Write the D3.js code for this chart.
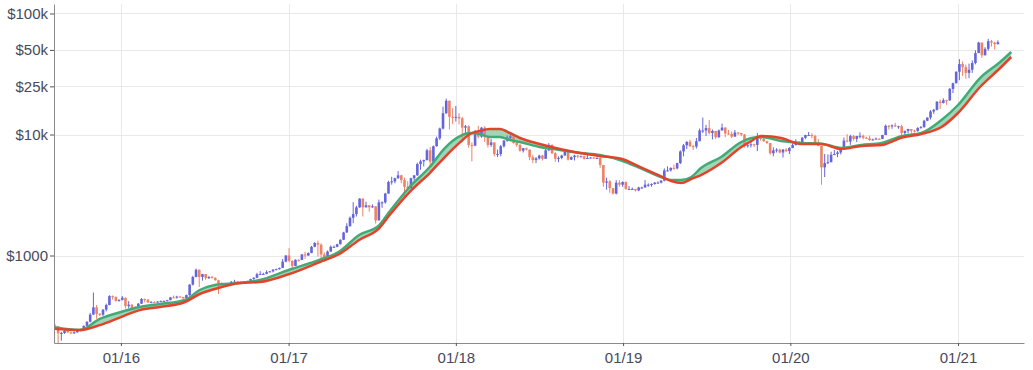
<!DOCTYPE html>
<html><head><meta charset="utf-8">
<script src="https://cdn.jsdelivr.net/npm/d3@7"></script>
<style>
body{margin:0;background:#fff;}
svg{display:block;font-family:"Liberation Sans",Arial,Helvetica,sans-serif;}
</style>
</head><body>
<svg id="chart" width="1033" height="370"></svg>
<script>
// ---------- DATA (weekly BTC candles, week start Monday 2015-08-10) ----------
const firstWeek = "2015-08-10";
const firstOpen = 265;

const close2015 = [260,228,229,240,232,231,232,240,246,262,284,325,373,330,324,357,390,462,455,422,430];
const high2015  = [272,262,234,242,245,235,236,242,248,265,285,336,495,390,335,360,400,470,468,458,435];
const low2015   = [255,185,198,225,228,224,225,230,236,245,262,280,323,300,315,317,345,388,432,415,415];

const close2016 = [448,382,392,368,373,400,437,431,410,412,410,416,420,420,428,451,450,458,455,443,471,575,665,762,665,703,650,666,655,625,588,570,581,571,608,608,609,603,610,617,639,655,700,703,705,730,740,765,772,790,890,1000];
const high2016  = [462,450,420,398,380,405,445,440,438,420,418,420,425,425,430,455,467,465,462,455,475,580,680,780,770,705,705,675,680,660,630,600,585,585,615,630,612,612,612,618,642,660,720,742,720,755,745,770,780,795,935,1010];
const low2016   = [425,365,365,365,365,370,398,410,405,405,405,408,413,416,418,426,445,440,450,438,438,465,565,660,550,620,630,640,645,620,480,565,565,565,570,600,600,592,600,605,615,630,650,690,690,700,725,725,755,765,788,880];

const close2017 = [905,820,922,920,1020,1000,1050,1180,1270,1230,1020,970,1080,1180,1180,1240,1350,1550,1750,2050,2200,2500,2950,2500,2600,2500,2550,1950,2750,2750,3250,4050,4100,4350,4600,4200,3700,3600,4350,4600,5700,6000,6150,7400,5950,8000,9300,11200,15000,19000,14000,13800];
const high2017  = [1150,910,930,930,1030,1070,1060,1200,1290,1330,1260,1060,1100,1210,1210,1250,1360,1570,1850,2100,2760,2580,2980,2980,2780,2600,2650,2550,2900,2800,3300,4150,4480,4400,4980,4650,4400,4100,4400,4620,5850,6200,6200,7600,7900,8100,9600,11400,17000,19800,19100,16500];
const low2017   = [880,750,820,890,915,940,990,1045,1170,980,940,890,930,1070,1160,1170,1235,1340,1540,1730,1850,2100,2480,2100,2500,2300,2480,1840,1950,2480,2680,3250,3850,3950,4300,3960,2970,3500,3600,4160,4550,5100,5450,6100,5500,5900,7950,9000,11000,14800,11000,12200];

const close2018 = [14000,13600,11400,11700,8200,8100,10400,9600,11400,9500,8200,8600,6900,6900,8000,8900,9400,9650,8500,8200,7350,7700,7500,6500,6150,6350,6700,6300,7400,8200,7000,6300,6400,6700,7200,6200,6500,6700,6600,6600,6300,6400,6450,6400,6400,5600,4000,4100,3600,3250,4000,3850];
const high2018  = [17200,15000,14000,12000,11900,8600,10900,11800,11500,11700,9900,9200,8600,7500,8200,9000,9800,9900,9700,8900,8400,7750,7800,7500,6800,6500,6800,6800,7600,8500,8300,7150,6600,6800,7300,7400,6600,6800,6800,6700,6700,6800,6500,6500,6500,6500,5600,4400,4200,3600,4200,4200];
const low2018   = [12800,12100,9100,10000,7800,6000,8000,9300,9400,8700,7800,7900,6600,6500,6600,7800,8700,9100,8400,7900,7200,7100,7400,6150,5800,5800,6200,6100,6300,7300,6900,5950,5900,6250,6700,6100,6150,6100,6400,6500,6200,6350,6350,6300,6300,5300,3700,3500,3300,3200,3200,3700];

const close2019 = [4050,3550,3550,3550,3450,3650,3650,3850,3850,3900,4000,4000,4150,5050,5050,5300,5250,5800,7250,8150,8700,8000,7950,8800,10800,10800,11300,10300,10700,9500,10800,11400,10200,10100,9600,10400,10300,10000,8050,8150,8300,8200,9550,9200,8800,8500,7000,7400,7500,7100,7500,7300];
const high2019  = [4100,4100,3750,3650,3550,3700,3700,4200,3950,3950,4050,4100,4200,5250,5450,5350,5650,5850,7400,8350,8800,9050,8200,9350,11200,13800,12000,13200,11000,10700,11000,12300,11500,10900,10600,10900,10400,10300,10100,8500,8800,8400,10300,9900,9500,8900,8500,7850,7700,7600,7600,7700];
const low2019   = [3700,3500,3500,3500,3380,3400,3550,3650,3700,3700,3850,3950,3950,4100,4950,4950,5100,5150,5700,6600,7600,7900,7450,7650,8950,10300,9700,10000,9100,9200,9400,10900,9500,9900,9350,9600,9900,9700,7800,7800,7800,7900,7300,8900,8700,8350,6800,6600,7100,7000,6450,7150];

const close2020 = [7750,8200,8700,8600,9400,9900,9900,9700,8550,8050,5350,5800,5900,6800,6900,7100,7550,8900,8750,9700,9200,9700,9750,9400,9300,9000,9100,9250,9200,9900,11800,11700,11900,11700,11700,10300,10700,11100,10750,10700,11300,11500,13000,13800,15500,16000,18700,18200,19200,19150,23800,26500,33000];
const high2020  = [7850,8450,9150,8800,9550,9950,10500,10250,9950,9150,8100,6900,6850,7200,7450,7300,7750,9450,10050,9950,9900,9750,10400,10000,9600,9800,9250,9450,9300,9950,12100,12000,12100,12500,11800,12050,10800,11150,10950,10950,11500,11750,13250,13850,15900,16300,18800,19450,19900,19400,24250,26850,33300];
const low2020   = [6900,7700,8100,8250,8550,9150,9800,9300,8500,8000,3850,4450,5700,5900,6750,6500,6850,7550,8600,8200,8900,8650,9300,9100,9200,8850,8950,9150,9050,9150,9950,11000,11150,11500,11150,9900,9900,10200,10150,10400,10550,11200,11400,12900,13300,14800,15800,16250,18050,17600,19000,22000,26500];

const close2021 = [38200,36000,32300,34300,39000,47100,57500,45200,51000,59000,57400,55800,57900];
const high2021  = [41950,40100,37850,38500,40900,49700,58300,57500,52600,61700,60500,58400,60000];
const low2021   = [28100,30400,28850,29250,32300,38000,47000,43000,44900,49300,53300,50400,55500];

// moving-average band
const maDates = ["2015-08-08","2015-10-03","2015-11-16","2016-01-01","2016-02-11","2016-03-26","2016-05-20","2016-06-21","2016-07-24","2016-09-17","2016-10-30","2017-01-01","2017-03-09","2017-04-22","2017-06-04","2017-07-18","2017-08-09","2017-09-22","2017-11-05","2017-12-08","2018-01-10","2018-02-01","2018-02-22","2018-03-16","2018-04-07","2018-04-29","2018-05-21","2018-07-03","2018-08-16","2018-09-29","2018-11-11","2018-12-28","2019-02-09","2019-03-25","2019-04-16","2019-05-08","2019-05-30","2019-06-20","2019-08-03","2019-09-16","2019-10-08","2019-10-29","2019-12-12","2020-01-25","2020-03-09","2020-04-21","2020-06-04","2020-07-18","2020-08-30","2020-10-13","2020-11-26","2021-01-01","2021-02-18","2021-04-03","2021-04-27"];
const greenMA = [255,242,299,341,375,397,429,519,571,593,627,760,920,1080,1477,1787,2300,3683,5387,7735,9700,10290,10095,9535,9535,9005,8670,7883,7447,7033,6768,6100,5250,4450,4207,4207,4455,5287,6517,8670,9357,9535,8839,8508,8400,7750,8190,8508,9700,10290,13178,17530,29300,39730,48060];
const redMA   = [248,242,266,310,354,375,413,481,529,593,604,700,880,1030,1343,1688,2150,3348,4806,6517,8600,10095,10688,11103,11103,10290,9357,8347,7591,7033,6642,6300,5350,4500,4130,3973,4288,4627,5813,7883,8839,9719,9357,8347,8350,7600,8035,8190,9400,10095,11535,15057,24700,35440,43700];

const yTicks = [1000, 10000, 25000, 50000, 100000];
const xTicks = ["2016-01-01","2017-01-01","2018-01-01","2019-01-01","2020-01-01","2021-01-01"];

// ---------- BUILD ----------
const closes = [].concat(close2015, close2016, close2017, close2018, close2019, close2020, close2021);
const highs  = [].concat(high2015, high2016, high2017, high2018, high2019, high2020, high2021);
const lows   = [].concat(low2015, low2016, low2017, low2018, low2019, low2020, low2021);
const parse = d3.utcParse("%Y-%m-%d");
const w0 = parse(firstWeek);
const candles = closes.map((c, i) => {
  const o = i === 0 ? firstOpen : closes[i - 1];
  return { date: d3.utcMonday.offset(w0, i), o, c,
           h: Math.max(highs[i], o, c), l: Math.min(lows[i], o, c) };
});
const ma = maDates.map((d, i) => ({ date: parse(d), g: greenMA[i], r: redMA[i] }));

const L = 54, R = 1024, T = 4, B = 343;
const x = d3.scaleUtc().domain([parse("2015-08-08"), parse("2021-05-25")]).range([L, R]);
const y = d3.scaleLog().domain([189.3, 119800]).range([B, T]);

const svg = d3.select("#chart");
svg.append("defs").append("clipPath").attr("id", "clip")
  .append("rect").attr("x", L).attr("y", T).attr("width", R - L).attr("height", B - T);

// grid
const grid = svg.append("g");
grid.selectAll(".gy").data(yTicks).join("line")
  .attr("x1", L).attr("x2", R).attr("y1", d => Math.round(y(d)) + 0.5).attr("y2", d => Math.round(y(d)) + 0.5)
  .attr("stroke", "#e9e9e9").attr("stroke-width", 1);
grid.selectAll(".gx").data(xTicks).join("line")
  .attr("y1", T).attr("y2", B).attr("x1", d => Math.round(x(parse(d))) + 0.5).attr("x2", d => Math.round(x(parse(d))) + 0.5)
  .attr("stroke", "#e9e9e9").attr("stroke-width", 1);

const plot = svg.append("g").attr("clip-path", "url(#clip)");

// band fill
plot.append("path").datum(ma)
  .attr("d", d3.area().x(d => x(d.date)).y0(d => y(d.r)).y1(d => y(d.g)).curve(d3.curveMonotoneX))
  .attr("fill", "#86cda5").attr("fill-opacity", 0.8);

// candles
const upC = "#6464dc", dnC = "#ee8266";
const cg = plot.append("g");
cg.selectAll("line").data(candles).join("line")
  .attr("x1", d => x(d.date)).attr("x2", d => x(d.date))
  .attr("y1", d => y(d.h)).attr("y2", d => y(d.l))
  .attr("stroke", d => d.c >= d.o ? upC : dnC).attr("stroke-width", 1);
cg.selectAll("rect").data(candles).join("rect")
  .attr("x", d => x(d.date) - 1.3).attr("width", 2.6)
  .attr("y", d => y(Math.max(d.o, d.c)))
  .attr("height", d => Math.max(1, Math.abs(y(d.o) - y(d.c))))
  .attr("fill", d => d.c >= d.o ? upC : dnC);

// MA lines
plot.append("path").datum(ma)
  .attr("d", d3.line().x(d => x(d.date)).y(d => y(d.g)).curve(d3.curveMonotoneX))
  .attr("fill", "none").attr("stroke", "#43aa77").attr("stroke-width", 2.5);
plot.append("path").datum(ma)
  .attr("d", d3.line().x(d => x(d.date)).y(d => y(d.r)).curve(d3.curveMonotoneX))
  .attr("fill", "none").attr("stroke", "#e2442b").attr("stroke-width", 2.5);

// axes
const txtCol = "#464a5c";
const yAxis = svg.append("g").attr("transform", `translate(${L},0)`)
  .call(d3.axisLeft(y).tickValues(yTicks).tickSize(4).tickSizeOuter(0)
    .tickFormat(d => d >= 10000 ? "$" + (d / 1000) + "k" : "$" + d));
const xAxis = svg.append("g").attr("transform", `translate(0,${B})`)
  .call(d3.axisBottom(x).tickValues(xTicks.map(parse)).tickSize(3).tickSizeOuter(0)
    .tickFormat(d3.utcFormat("%m/%y")));
[yAxis, xAxis].forEach(a => {
  a.select(".domain").attr("stroke", "#8a8a8a");
  a.selectAll(".tick line").attr("stroke", "#555");
  a.selectAll("text").attr("fill", txtCol).style("font-size", "15px")
    .style("font-family", '"Liberation Sans", Arial, Helvetica, sans-serif');
});
yAxis.selectAll("text").attr("x", -6);
xAxis.selectAll("text").attr("y", 9);
</script>
</body></html>
